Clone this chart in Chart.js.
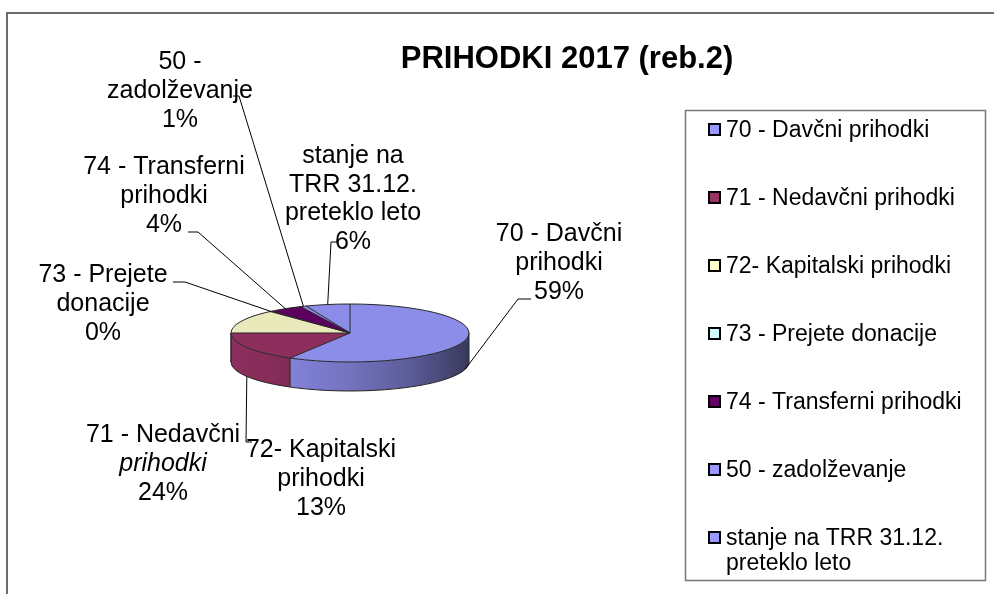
<!DOCTYPE html>
<html><head><meta charset="utf-8">
<script src="https://cdn.jsdelivr.net/npm/chart.js@4/dist/chart.umd.min.js"></script>
<style>html,body{margin:0;padding:0;background:#fff;overflow:hidden}</style>
</head><body>
<canvas id="c" width="994" height="594" style="display:block;width:994px;height:594px"></canvas>
<script>
// ---------- DATA ----------
const chartTitle = 'PRIHODKI 2017 (reb.2)';
const categories = ['70 - Davčni prihodki','71 - Nedavčni prihodki','72- Kapitalski prihodki','73 - Prejete donacije','74 - Transferni prihodki','50 - zadolževanje','stanje na TRR 31.12. preteklo leto'];
const sliceValues = [58.4, 16.6, 13.3, 0.2, 4.7, 0.8, 6.0];
const shownPercents = ['59%','24%','13%','0%','4%','1%','6%'];
const dataLabelLines = [['70 - Davčni','prihodki'],['71 - Nedavčni','prihodki'],['72- Kapitalski','prihodki'],['73 - Prejete','donacije'],['74 - Transferni','prihodki'],['50 -','zadolževanje'],['stanje na','TRR 31.12.','preteklo leto']];
const legendLines = [['70 - Davčni prihodki'],['71 - Nedavčni prihodki'],['72- Kapitalski prihodki'],['73 - Prejete donacije'],['74 - Transferni prihodki'],['50 - zadolževanje'],['stanje na TRR 31.12.','preteklo leto']];
const baseColors = ['#9999FF','#993366','#FFFFCC','#CCFFFF','#660066','#9999FF','#9999FF'];

// ---------- STYLE / LAYOUT ----------
const FONT = '"Liberation Sans", Arial, sans-serif';
const TILT = 29/119;      // ellipse ratio of the top face
const DEPTH = 29;         // thickness of the 3D disc
function shade(hex, f){
  const n = parseInt(hex.slice(1),16);
  const r = Math.round(((n>>16)&255)*f), g = Math.round(((n>>8)&255)*f), b = Math.round((n&255)*f);
  return 'rgb('+r+','+g+','+b+')';
}
const topColors = baseColors.map(c => shade(c, 0.915));
const labelLayout = [
  {x:559, y:234, lh:29, elbow:[518,299], tip:[531,299]},
  {x:163, y:435, lh:29, italic:[1], elbow:[246,442], tip:[252,442]},
  {x:321, y:450, lh:29},
  {x:103, y:275, lh:29, elbow:[185,282], tip:[173,282]},
  {x:164, y:167, lh:29, elbow:[198,232], tip:[188,232]},
  {x:180, y:62,  lh:29, elbow:[239,96], tip:[233,96]},
  {x:353, y:156, lh:28.7, elbow:[331,242], tip:[337,242]}
];

function geom(chart){
  const meta = chart.getDatasetMeta(0);
  const a = meta.data[0];
  return {meta, cx:a.x, cy:a.y, rx:a.outerRadius, ry:a.outerRadius*TILT};
}

const framePlugin = {
  id:'frame',
  beforeDraw(chart){
    const c = chart.ctx;
    c.save();
    c.fillStyle = '#fff'; c.fillRect(0,0,chart.width,chart.height);
    c.strokeStyle = '#6b6b6b'; c.lineWidth = 2;
    c.beginPath(); c.moveTo(7,chart.height+2); c.lineTo(7,13); c.lineTo(chart.width+2,13); c.stroke();
    c.fillStyle = '#000'; c.font = 'bold 31px '+FONT; c.textAlign='center'; c.textBaseline='middle';
    c.fillText(chartTitle, 567, 59);
    c.restore();
  }
};

const pie3d = {
  id:'pie3d',
  beforeDatasetsDraw(chart){
    const {meta,cx,cy,rx,ry} = geom(chart);
    const c = chart.ctx;
    c.save();
    const stops = [[0,0.92],[0.25,0.85],[0.5,0.75],[0.75,0.6],[1,0.37]];
    meta.data.forEach((arc,i)=>{
      const s = Math.max(arc.startAngle,0), e = Math.min(arc.endAngle,Math.PI);
      if (e <= s) return;
      const g = c.createLinearGradient(cx-rx,0,cx+rx,0);
      stops.forEach(([p,f])=>g.addColorStop(p, shade(baseColors[i], f)));
      c.beginPath();
      c.ellipse(cx,cy,rx,ry,0,s,e,false);
      c.ellipse(cx,cy+DEPTH,rx,ry,0,e,s,true);
      c.closePath();
      c.fillStyle = g; c.fill();
    });
    c.strokeStyle = '#262626'; c.lineWidth = 1;
    c.beginPath(); c.ellipse(cx,cy+DEPTH,rx,ry,0,0,Math.PI,false); c.stroke();
    c.beginPath();
    c.moveTo(cx-rx,cy); c.lineTo(cx-rx,cy+DEPTH);
    c.moveTo(cx+rx,cy); c.lineTo(cx+rx,cy+DEPTH);
    meta.data.forEach(arc=>{
      const a = arc.startAngle;
      if (a > 0 && a < Math.PI){
        const x = cx+rx*Math.cos(a), y = cy+ry*Math.sin(a);
        c.moveTo(x,y); c.lineTo(x,y+DEPTH);
      }
    });
    c.stroke();
    c.restore();
    // squash the library's pie into the ellipse of the top face
    c.save();
    c.translate(cx,cy); c.scale(1,TILT); c.translate(-cx,-cy);
  },
  afterDatasetsDraw(chart){
    const c = chart.ctx;
    c.restore();
    const {meta,cx,cy,rx,ry} = geom(chart);
    c.save();
    c.strokeStyle = '#262626'; c.lineWidth = 1;
    c.beginPath(); c.ellipse(cx,cy,rx,ry,0,0,Math.PI*2); c.stroke();
    c.beginPath();
    meta.data.forEach(arc=>{
      const a = arc.startAngle;
      c.moveTo(cx,cy); c.lineTo(cx+rx*Math.cos(a), cy+ry*Math.sin(a));
    });
    c.stroke();
    c.restore();
  }
};

const labelPlugin = {
  id:'pieLabels',
  afterDraw(chart){
    const {meta,cx,cy,rx,ry} = geom(chart);
    const c = chart.ctx;
    c.save();
    c.fillStyle = '#000'; c.textAlign='center'; c.textBaseline='middle';
    meta.data.forEach((arc,i)=>{
      const L = labelLayout[i];
      const lines = dataLabelLines[i].concat([shownPercents[i]]);
      lines.forEach((t,k)=>{
        const it = L.italic && L.italic.includes(k);
        c.font = (it?'italic ':'')+'25px '+FONT;
        c.fillText(t, L.x, L.y + k*L.lh);
      });
      if (L.elbow){
        const m = (arc.startAngle+arc.endAngle)/2;
        let ax = cx+rx*Math.cos(m), ay = cy+ry*Math.sin(m);
        if (Math.sin(m) > 0) ay += DEPTH;
        c.strokeStyle = '#000'; c.lineWidth = 1;
        c.beginPath(); c.moveTo(ax,ay); c.lineTo(L.elbow[0],L.elbow[1]); c.lineTo(L.tip[0],L.tip[1]); c.stroke();
      }
    });
    c.restore();
  }
};

const legendPlugin = {
  id:'legendBox',
  afterDraw(chart){
    const c = chart.ctx;
    c.save();
    c.strokeStyle = '#777'; c.lineWidth = 1.5;
    c.strokeRect(685.5,110.5,300,470);
    c.font = '23px '+FONT; c.textAlign='left'; c.textBaseline='middle';
    legendLines.forEach((lines,i)=>{
      const y = 131 + i*68;
      c.fillStyle = baseColors[i];
      c.fillRect(709,y-7,11,11);
      c.strokeStyle = '#000'; c.lineWidth = 2; c.strokeRect(709,y-7,11,11);
      c.fillStyle = '#000';
      lines.forEach((t,k)=> c.fillText(t, 726, y + k*25));
    });
    c.restore();
  }
};

new Chart(document.getElementById('c'), {
  type:'pie',
  data:{ labels: categories, datasets:[{ data: sliceValues, backgroundColor: topColors, borderWidth:0, hoverOffset:0 }] },
  options:{
    responsive:false, animation:false, events:[],
    radius:119,
    layout:{ padding:{left:231, right:525, top:214, bottom:142} },
    plugins:{ legend:{display:false}, tooltip:{enabled:false} }
  },
  plugins:[framePlugin, pie3d, labelPlugin, legendPlugin]
});
</script>
</body></html>
